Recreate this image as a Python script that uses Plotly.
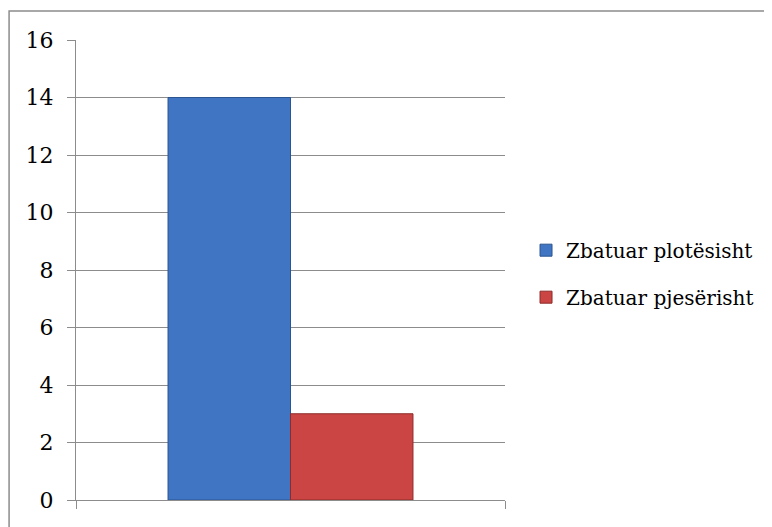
import plotly.graph_objects as go

categories = [""]
series_names = ["Zbatuar plotësisht", "Zbatuar pjesërisht"]
series_values = [[14], [3]]
series_colors = ["#3F75C3", "#CA4543"]
series_lines = ["#2B5590", "#8E2C2A"]
y_ticks = [0, 2, 4, 6, 8, 10, 12, 14, 16]

fig = go.Figure()
for i, (name, vals, col, lc) in enumerate(zip(series_names, series_values, series_colors, series_lines)):
    fig.add_trace(go.Bar(x=categories, y=vals, name=name, legendgroup=f"g{i}",
                         marker=dict(color=col, line=dict(color=lc, width=1))))

font = '"DejaVu Serif", serif'
fig.update_layout(
    width=764, height=519,
    margin=dict(l=68, r=267, t=32, b=27),
    paper_bgcolor="white", plot_bgcolor="white",
    barmode="group", bargap=0.429, bargroupgap=0,
    font=dict(family=font, size=22, color="black"),
    showlegend=True,
    legend=dict(x=1.049, y=0.492, xanchor="left", yanchor="middle",
                font=dict(family=font, size=20), itemwidth=30,
                tracegroupgap=18, bgcolor="rgba(0,0,0,0)"),
    xaxis=dict(type="category", showticklabels=False, ticks="outside",
               tickson="boundaries", ticklen=8, tickcolor="#8c8c8c",
               showline=True, linecolor="#8c8c8c", linewidth=1,
               showgrid=False, zeroline=False),
    yaxis=dict(range=[0, 16], tickvals=y_ticks, ticks="outside", ticklen=8,
               tickcolor="#8c8c8c", showline=True, linecolor="#8c8c8c",
               linewidth=1, showgrid=True, gridcolor="#8c8c8c", gridwidth=1,
               zeroline=False, ticklabelstandoff=9,
               tickfont=dict(family=font, size=22)),
    shapes=[dict(type="rect", xref="paper", yref="paper",
                 x0=-0.156, x1=1.64, y0=-0.1, y1=1.063,
                 line=dict(color="#8c8c8c", width=1.5), fillcolor="rgba(0,0,0,0)",
                 layer="below")],
)
fig.write_html("out.html")
